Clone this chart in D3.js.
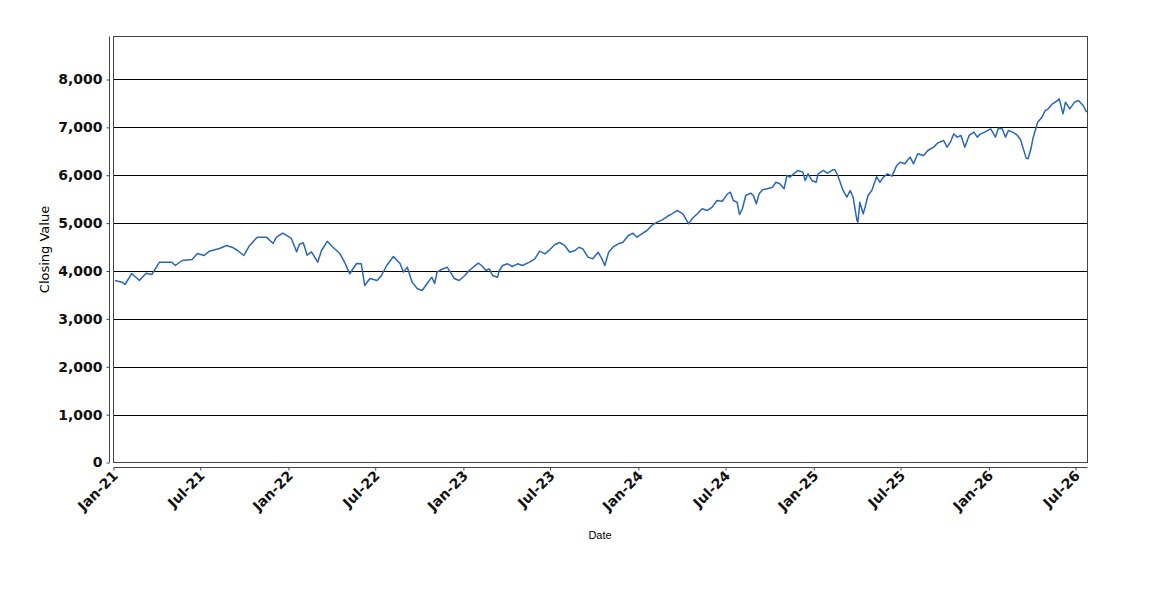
<!DOCTYPE html>
<html>
<head>
<meta charset="UTF-8">
<script src="https://d3js.org/d3.v7.min.js"></script>
<style>
  body { margin: 0; background: #fff; }
  .tick text { font-family: "DejaVu Sans", sans-serif; font-size: 14px; font-weight: bold; fill: #111; }
  .axis-title { font-family: "DejaVu Sans", sans-serif; font-size: 13px; fill: #000; }
  .x-title { font-family: "Liberation Sans", Arial, sans-serif; font-size: 11px; fill: #000; }
</style>
</head>
<body>
<svg id="chart" width="1150" height="600"></svg>
<script>
// closing values
const dates = [
  "2021-01-04","2021-01-19","2021-01-25","2021-02-08","2021-02-24","2021-03-10","2021-03-22","2021-04-07",
  "2021-05-03","2021-05-10","2021-05-24","2021-06-14","2021-06-25","2021-07-09","2021-07-20","2021-08-10",
  "2021-08-25","2021-09-07","2021-09-17","2021-09-30","2021-10-12","2021-10-28","2021-11-16","2021-11-30",
  "2021-12-07","2021-12-20","2021-12-28",
  "2022-01-07","2022-01-18","2022-01-24","2022-02-01","2022-02-09","2022-02-18","2022-03-03","2022-03-11",
  "2022-03-23","2022-04-04","2022-04-18","2022-04-28","2022-05-09","2022-05-16","2022-05-23","2022-06-02",
  "2022-06-09","2022-06-20","2022-07-05","2022-07-14","2022-07-25","2022-08-08","2022-08-22","2022-08-29",
  "2022-09-06","2022-09-16","2022-09-27","2022-10-07","2022-10-17","2022-10-27","2022-11-02","2022-11-07",
  "2022-11-16","2022-11-28","2022-12-07","2022-12-13","2022-12-23",
  "2023-01-04","2023-01-13","2023-02-01","2023-02-08","2023-02-17","2023-02-24","2023-03-03","2023-03-13",
  "2023-03-17","2023-03-24","2023-04-03","2023-04-13","2023-04-24","2023-05-04","2023-05-19","2023-05-30",
  "2023-06-09","2023-06-20","2023-06-30","2023-07-11","2023-07-21","2023-07-31","2023-08-11","2023-08-22",
  "2023-08-30","2023-09-07","2023-09-18","2023-09-28","2023-10-09","2023-10-17","2023-10-23","2023-10-31",
  "2023-11-09","2023-11-20","2023-11-30","2023-12-11","2023-12-21","2023-12-29",
  "2024-01-08","2024-01-19","2024-01-29","2024-02-09","2024-02-20","2024-03-01","2024-03-11","2024-03-22",
  "2024-03-28","2024-04-03","2024-04-15","2024-04-22","2024-05-03","2024-05-13","2024-05-24","2024-06-03",
  "2024-06-13","2024-06-24","2024-07-05","2024-07-11","2024-07-17","2024-07-25","2024-07-30","2024-08-05",
  "2024-08-12","2024-08-22","2024-08-28","2024-09-03","2024-09-09","2024-09-16","2024-09-26","2024-10-07",
  "2024-10-14","2024-10-22","2024-10-31","2024-11-06","2024-11-12","2024-11-22","2024-11-29","2024-12-09",
  "2024-12-14","2024-12-20","2024-12-28",
  "2025-01-06","2025-01-10","2025-01-21","2025-01-29","2025-02-10","2025-02-14","2025-02-20","2025-02-25",
  "2025-03-03","2025-03-11","2025-03-18","2025-03-24","2025-04-01","2025-04-03","2025-04-07","2025-04-14",
  "2025-04-18","2025-04-24","2025-05-02","2025-05-12","2025-05-19","2025-05-26","2025-06-04","2025-06-13",
  "2025-06-23","2025-06-30","2025-07-10","2025-07-21","2025-07-28","2025-08-06","2025-08-18","2025-08-27",
  "2025-09-08","2025-09-17","2025-09-29","2025-10-06","2025-10-13","2025-10-20","2025-10-27","2025-11-04",
  "2025-11-12","2025-11-21","2025-12-01","2025-12-08","2025-12-15","2025-12-24",
  "2026-01-05","2026-01-15","2026-01-21","2026-01-29","2026-02-05","2026-02-11","2026-02-20","2026-03-02",
  "2026-03-09","2026-03-13","2026-03-20","2026-03-24","2026-03-30","2026-04-03","2026-04-13","2026-04-22",
  "2026-04-29","2026-05-05","2026-05-14","2026-05-25","2026-05-28","2026-06-05","2026-06-10","2026-06-19",
  "2026-06-29","2026-07-07","2026-07-17","2026-07-24"
];
const closes = [
  3800,3766,3718,3947,3800,3955,3927,4184,
  4184,4115,4219,4240,4366,4324,4414,4470,
  4533,4490,4428,4324,4533,4707,4707,4574,
  4707,4790,4742,
  4679,4400,4560,4590,4330,4400,4184,4428,
  4620,4497,4366,4184,3941,4052,4157,4150,
  3697,3843,3802,3906,4115,4303,4150,3976,
  4080,3767,3628,3593,3733,3871,3739,3976,
  4031,4080,3941,3843,3802,
  3906,4010,4164,4115,4010,4045,3906,3871,
  4010,4115,4150,4094,4150,4115,4184,4254,
  4414,4359,4442,4553,4595,4533,4393,4428,
  4497,4463,4289,4254,4393,4254,4115,4393,
  4497,4568,4602,4742,4790,4707,
  4777,4846,4951,5021,5069,5138,5195,5264,
  5229,5195,4986,5090,5195,5299,5264,5333,
  5473,5458,5612,5646,5473,5437,5180,5299,
  5577,5626,5577,5403,5612,5696,5717,5751,
  5855,5821,5717,5995,5960,6044,6100,6065,
  5891,6030,5891,
  5855,6030,6100,6044,6114,6114,5995,5855,
  5682,5542,5682,5542,5055,5021,5437,5195,
  5333,5577,5682,5970,5850,5960,6030,5981,
  6204,6273,6239,6378,6239,6448,6413,6517,
  6587,6677,6726,6587,6691,6865,6796,6831,
  6587,6831,6900,6796,6865,6900,
  6970,6796,6983,6970,6796,6935,6900,6831,
  6726,6587,6357,6343,6552,6761,7108,7213,
  7352,7387,7492,7561,7596,7283,7526,7387,
  7526,7561,7457,7317
];
const yTicks = [0, 1000, 2000, 3000, 4000, 5000, 6000, 7000, 8000];
const xTickLabels = ["Jan-21","Jul-21","Jan-22","Jul-22","Jan-23","Jul-23","Jan-24","Jul-24","Jan-25","Jul-25","Jan-26","Jul-26"];

const parse = d3.timeParse("%Y-%m-%d");
const data = dates.map((d, i) => ({ date: parse(d), value: closes[i] }));

const svg = d3.select("#chart");
const plotLeft = 113.5, plotRight = 1087.5, plotTop = 36.5, plotBottom = 462.5;

const x = d3.scaleTime()
  .domain([new Date(2021, 0, 1), new Date(2026, 6, 26)])
  .range([plotLeft, plotRight]);
const y = d3.scaleLinear()
  .domain([0, 8898])
  .range([plotBottom, plotTop]);

// grid lines
svg.append("g")
  .selectAll("line")
  .data(yTicks.filter(t => t > 0))
  .enter().append("line")
  .attr("x1", plotLeft).attr("x2", plotRight)
  .attr("y1", d => Math.round(y(d)) + 0.5)
  .attr("y2", d => Math.round(y(d)) + 0.5)
  .attr("stroke", "#000")
  .attr("stroke-width", 1);

// plot frame
svg.append("rect")
  .attr("x", plotLeft).attr("y", plotTop)
  .attr("width", plotRight - plotLeft).attr("height", plotBottom - plotTop)
  .attr("fill", "none")
  .attr("stroke", "#444")
  .attr("stroke-width", 1);

// series line
const line = d3.line()
  .x(d => x(d.date))
  .y(d => y(d.value));

svg.append("path")
  .datum(data)
  .attr("fill", "none")
  .attr("stroke", "#2a66b8")
  .attr("stroke-width", 1.5)
  .attr("stroke-linejoin", "round")
  .attr("d", line);

// y axis, offset to the left of the frame
const yAxis = d3.axisLeft(y)
  .tickValues(yTicks)
  .tickSize(3)
  .tickPadding(4)
  .tickFormat(d3.format(","));

const gy = svg.append("g")
  .attr("transform", "translate(109.5,0)")
  .call(yAxis);
gy.select(".domain").attr("stroke", "#444").attr("d", `M0,${plotTop}V${plotBottom}`);
gy.selectAll(".tick line").attr("stroke", "#444");

// x axis, offset below the frame
const xTickDates = xTickLabels.map(s => d3.timeParse("%b-%y")(s));
const xAxis = d3.axisBottom(x)
  .tickValues(xTickDates)
  .tickSize(3)
  .tickFormat((d, i) => xTickLabels[i]);

const gx = svg.append("g")
  .attr("transform", "translate(0,467.5)")
  .call(xAxis);
gx.select(".domain").attr("stroke", "#444").attr("d", `M${plotLeft},0H${plotRight}`);
gx.selectAll(".tick line").attr("stroke", "#444");
gx.selectAll(".tick text")
  .attr("text-anchor", "end")
  .attr("dx", "0")
  .attr("dy", "0")
  .attr("y", 0)
  .attr("transform", "translate(5,9) rotate(-45)");

// axis titles
svg.append("text")
  .attr("class", "axis-title")
  .attr("text-anchor", "middle")
  .attr("transform", `translate(49,${(plotTop + plotBottom) / 2}) rotate(-90)`)
  .text("Closing Value");

svg.append("text")
  .attr("class", "x-title")
  .attr("text-anchor", "middle")
  .attr("x", 600)
  .attr("y", 539)
  .text("Date");
</script>
</body>
</html>
